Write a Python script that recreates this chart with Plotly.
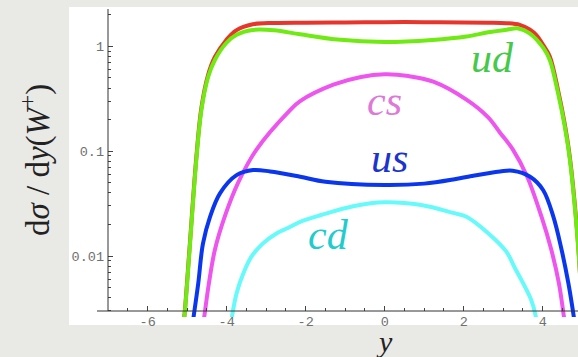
import plotly.graph_objects as go

# ---------------- data ----------------
total_x = [-5.12, -5.06, -4.94, -4.77, -4.64, -4.47, -4.30, -4.01, -3.76, -3.34, -2.8, -2.0, -1.0, 0.0,
           1.0, 2.0, 2.62, 3.09, 3.42, 3.67, 3.84, 4.02, 4.18, 4.39, 4.56, 4.69, 4.87, 5.0]
total_y = [0.0018, 0.003, 0.012, 0.086, 0.26, 0.535, 0.79, 1.15, 1.42, 1.62, 1.67, 1.68, 1.69, 1.70,
           1.70, 1.69, 1.68, 1.66, 1.60, 1.45, 1.28, 1.02, 0.80, 0.38, 0.18, 0.086, 0.0175, 0.003]

ud_x = [-5.12, -5.06, -4.94, -4.77, -4.64, -4.47, -4.30, -4.01, -3.76, -3.34, -2.8, -2.14, -1.2, 0.0,
        1.2, 2.07, 2.62, 3.09, 3.38, 3.67, 4.02, 4.18, 4.39, 4.56, 4.69, 4.87, 5.0]
ud_y = [0.0018, 0.0029, 0.0114, 0.082, 0.247, 0.509, 0.74, 1.075, 1.28, 1.43, 1.42, 1.30, 1.16, 1.10,
        1.15, 1.24, 1.36, 1.44, 1.48, 1.33, 0.96, 0.74, 0.356, 0.171, 0.082, 0.0166, 0.003]

cs_x = [-4.62, -4.57, -4.45, -4.30, -4.05, -3.71, -3.25, -2.40, -2.14, -1.30, -0.6, 0.0, 0.6, 1.23,
        2.07, 2.62, 2.92, 3.25, 3.60, 3.97, 4.22, 4.41, 4.54, 4.59]
cs_y = [0.0019, 0.0026, 0.0055, 0.0114, 0.0237, 0.050, 0.103, 0.245, 0.30, 0.43, 0.51, 0.54, 0.52, 0.46,
        0.31, 0.21, 0.15, 0.103, 0.058, 0.0237, 0.0114, 0.0055, 0.0026, 0.0019]

us_x = [-4.89, -4.84, -4.72, -4.60, -4.42, -4.17, -3.75, -3.33, -2.9, -2.14, -1.5, 0.0, 1.0, 1.77,
        2.2, 2.92, 3.24, 3.68, 4.01, 4.27, 4.48, 4.65, 4.79, 4.84]
us_y = [0.0019, 0.0026, 0.0055, 0.0132, 0.0237, 0.0396, 0.059, 0.066, 0.064, 0.057, 0.051, 0.0475, 0.049, 0.054,
        0.058, 0.064, 0.065, 0.057, 0.0426, 0.0237, 0.0114, 0.0055, 0.0026, 0.0019]

cd_x = [-3.92, -3.87, -3.75, -3.58, -3.37, -3.08, -2.74, -2.45, -2.14, -1.61, -0.77, 0.0, 0.92, 1.76,
        2.07, 2.62, 3.08, 3.28, 3.71, 3.83, 3.87]
cd_y = [0.0019, 0.0026, 0.0044, 0.0068, 0.0099, 0.0132, 0.0164, 0.0185, 0.0212, 0.0246, 0.030, 0.0325, 0.0306, 0.0256,
        0.0237, 0.0165, 0.011, 0.0079, 0.0038, 0.0026, 0.0019]

labels = ["ud", "cs", "us", "cd"]

x_tickvals = [-6, -4, -2, 0, 2, 4]
x_ticktext = ["-6", "-4", "-2", "0", "2", "4"]
y_tickvals = [0.01, 0.1, 1]
y_ticktext = ["0.01", "0.1", "1"]
y_minorvals = [0.003, 0.004, 0.005, 0.006, 0.007, 0.008, 0.009,
               0.02, 0.03, 0.04, 0.05, 0.06, 0.07, 0.08, 0.09,
               0.2, 0.3, 0.4, 0.5, 0.6, 0.7, 0.8, 0.9, 2]

# ---------------- figure ----------------
W, H = 578, 357
L, R, T, B = 108, 0, 7, 40
PW, PH = W - L - R, H - T - B


def px_x(p):
    return (p - L) / PW


def px_y(p):
    return (H - B - p) / PH


fig = go.Figure()
series = [
    (total_x, total_y, "#e8352b"),
    (cs_x, cs_y, "#ee55ee"),
    (cd_x, cd_y, "#66fafa"),
    (us_x, us_y, "#0a37ee"),
    (ud_x, ud_y, "#6fea12"),
]
for xs, ys, c in series:
    fig.add_trace(go.Scatter(x=xs, y=ys, mode="lines",
                             line=dict(color=c, width=4, shape="spline", smoothing=1.0),
                             showlegend=False, hoverinfo="skip"))

tickfont = dict(family="Liberation Mono, Courier New, monospace", size=13.5, color="#707070")
axis_pos = px_y(311)

fig.update_layout(
    width=W, height=H,
    margin=dict(l=L, r=R, t=T, b=B, pad=0),
    paper_bgcolor="#e9e9e6",
    plot_bgcolor="white",
    xaxis=dict(range=[-7.005, 4.894], showgrid=False, zeroline=False, showline=False,
               tickmode="array", tickvals=x_tickvals, ticktext=x_ticktext,
               ticks="inside", ticklen=5, tickcolor="#444", tickwidth=1,
               anchor="free", position=axis_pos, tickfont=tickfont, ticklabelstandoff=0,
               minor=dict(dtick=0.5, tick0=0, ticks="inside", ticklen=3, tickcolor="#444", showgrid=False)),
    yaxis=dict(type="log", range=[-2.5818, 0.3748], showgrid=False, zeroline=False, showline=False,
               tickmode="array", tickvals=y_tickvals, ticktext=y_ticktext,
               ticks="inside", ticklen=5, tickcolor="#444", tickwidth=1, tickfont=tickfont,
               ticklabelstandoff=3,
               minor=dict(tickmode="array", tickvals=y_minorvals, ticks="inside", ticklen=3,
                          tickcolor="#444", showgrid=False)),
    shapes=[
        dict(type="rect", xref="paper", yref="paper", x0=px_x(69), x1=1.0, y0=px_y(325), y1=1.0,
             fillcolor="white", line=dict(width=0), layer="below"),
        dict(type="line", xref="paper", yref="paper", x0=0, x1=0, y0=axis_pos, y1=px_y(9),
             line=dict(color="#333", width=1)),
        dict(type="line", xref="paper", yref="paper", x0=px_x(97), x1=1.0, y0=axis_pos, y1=axis_pos,
             line=dict(color="#333", width=1)),
    ],
)

serif = "Liberation Serif, Times New Roman, serif"
label_specs = [
    (labels[0], 492, 58, "#45c94a"),
    (labels[1], 384, 101, "#dd7ad8"),
    (labels[2], 389, 158, "#1b34cc"),
    (labels[3], 328, 235, "#22cccc"),
]
for txt, x, y, col in label_specs:
    fig.add_annotation(x=px_x(x), y=px_y(y), xref="paper", yref="paper", text="<i>%s</i>" % txt,
                       showarrow=False, xanchor="center", yanchor="middle",
                       font=dict(family=serif, size=42, color=col))

fig.add_annotation(x=px_x(35), y=px_y(160), xref="paper", yref="paper",
                   text="d<i>σ</i> / d<i>y</i>(<i>W</i><sup>+</sup>)", textangle=-90,
                   showarrow=False, xanchor="center", yanchor="middle",
                   font=dict(family=serif, size=33, color="#222"))
fig.add_annotation(x=px_x(384), y=px_y(341), xref="paper", yref="paper", text="<i>y</i>",
                   showarrow=False, xanchor="center", yanchor="middle",
                   font=dict(family=serif, size=30, color="#222"))

fig.write_html("out.html", config={"displayModeBar": False},
               post_script="document.body.style.margin='0px';")
